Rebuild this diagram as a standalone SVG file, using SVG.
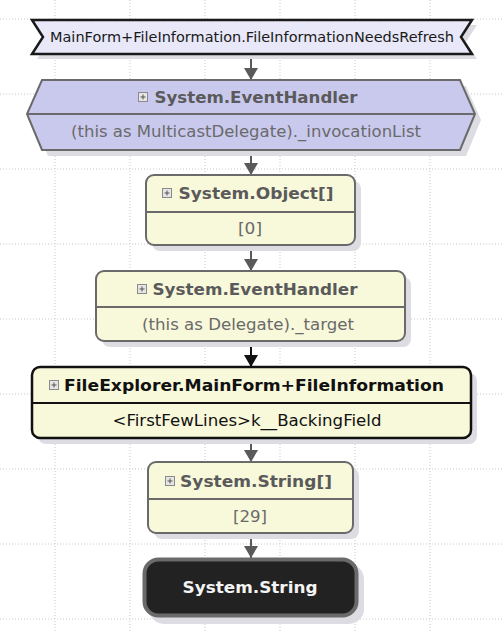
<svg xmlns="http://www.w3.org/2000/svg" width="504" height="631" viewBox="0 0 504 631">
<style>
.grid{stroke:#c8c8c8;stroke-width:1;stroke-dasharray:1 2}
.shadow{fill:#dcdce2}
.yel{fill:#f8f8da;stroke:#6a6a6a;stroke-width:2}
.hdr{font-family:"DejaVu Sans",Tahoma,sans-serif;font-weight:bold;font-size:16px;fill:#5a5a5a;text-anchor:middle}
.body{font-family:"DejaVu Sans",Tahoma,sans-serif;font-size:15px;fill:#6a6a6a;text-anchor:middle}
.div{stroke:#6a6a6a;stroke-width:2}
.icon{fill:#e6e6e6;stroke:#8a8a8a;stroke-width:1}
.plus{stroke:#555;stroke-width:1}
.conn{stroke:#5a5a5a;stroke-width:2;fill:none}
</style>
<defs>
<marker id="ah" markerUnits="userSpaceOnUse" markerWidth="12" markerHeight="14" refX="12" refY="7" orient="auto" viewBox="0 0 12 14">
<path d="M0,0 L12,7 L0,14 Z" fill="#5a5a5a"/>
</marker>
<marker id="ahb" markerUnits="userSpaceOnUse" markerWidth="12" markerHeight="14" refX="12" refY="7" orient="auto" viewBox="0 0 12 14">
<path d="M0,0 L12,7 L0,14 Z" fill="#111"/>
</marker>
<g id="ic"><rect class="icon" x="0.5" y="0.5" width="9" height="9"/><path class="plus" d="M2.5,5 H7.5 M5,2.5 V7.5"/></g>
</defs>
<rect width="504" height="631" fill="#fff"/>
<g id="grid">
<path class="grid" d="M55,0V631 M130,0V631 M205,0V631 M280,0V631 M355,0V631 M430,0V631 M0,19H504 M0,94H504 M0,169H504 M0,244H504 M0,319H504 M0,394H504 M0,469H504 M0,544H504 M0,619H504"/>
</g>
<g id="connectors">
<line class="conn" x1="251" y1="54" x2="251" y2="80" marker-end="url(#ah)"/>
<line class="conn" x1="251" y1="150" x2="251" y2="175" marker-end="url(#ah)"/>
<line class="conn" x1="251" y1="245" x2="251" y2="271" marker-end="url(#ah)"/>
<line x1="251" y1="341" x2="251" y2="367" stroke="#111" stroke-width="2" marker-end="url(#ahb)"/>
<line class="conn" x1="251" y1="438" x2="251" y2="462" marker-end="url(#ah)"/>
<line class="conn" x1="251" y1="533" x2="251" y2="558" marker-end="url(#ah)"/>
</g>
<g id="n1">
<polygon class="shadow" points="37,25 477,25 466,42 477,59 37,59 48,42"/>
<polygon points="32,20 472,20 461,37 472,54 32,54 43,37" fill="#e8e8f8" stroke="#1a1a1a" stroke-width="2.5"/>
<text x="252" y="42" font-family="'DejaVu Sans',Tahoma,sans-serif" font-size="14" fill="#1a1a1a" text-anchor="middle" textLength="404" lengthAdjust="spacingAndGlyphs">MainForm+FileInformation.FileInformationNeedsRefresh</text>
</g>
<g id="n2">
<polygon class="shadow" points="48,86 466,86 481,120 466,156 48,156 33,120"/>
<polygon points="42,80 460,80 475,114 460,150 42,150 27,114" fill="#c9c9ee" stroke="#6a6a6a" stroke-width="2"/>
<line class="div" x1="27" y1="114" x2="475" y2="114"/>
<use href="#ic" x="138" y="92"/>
<text class="hdr" x="256" y="103" textLength="203" lengthAdjust="spacingAndGlyphs">System.EventHandler</text>
<text class="body" x="246" y="137" textLength="350" lengthAdjust="spacingAndGlyphs">(this as MulticastDelegate)._invocationList</text>
</g>
<g id="n3">
<rect class="shadow" x="152" y="181" width="209" height="70" rx="8"/>
<rect class="yel" x="146" y="175" width="209" height="70" rx="8"/>
<line class="div" x1="146" y1="212" x2="355" y2="212"/>
<use href="#ic" x="162" y="188"/>
<text class="hdr" x="256" y="199" textLength="155" lengthAdjust="spacingAndGlyphs">System.Object[]</text>
<text class="body" x="250" y="234" textLength="24" lengthAdjust="spacingAndGlyphs">[0]</text>
</g>
<g id="n4">
<rect class="shadow" x="102" y="277" width="309" height="70" rx="8"/>
<rect class="yel" x="96" y="271" width="309" height="70" rx="8"/>
<line class="div" x1="96" y1="307" x2="405" y2="307"/>
<use href="#ic" x="137" y="284"/>
<text class="hdr" x="255" y="295" textLength="205" lengthAdjust="spacingAndGlyphs">System.EventHandler</text>
<text class="body" x="248" y="330" textLength="212" lengthAdjust="spacingAndGlyphs">(this as Delegate)._target</text>
</g>
<g id="n5">
<rect class="shadow" x="38" y="373" width="439" height="71" rx="8"/>
<rect x="32" y="367" width="439" height="71" rx="8" fill="#f8f8da" stroke="#111" stroke-width="2.5"/>
<line x1="32" y1="403" x2="471" y2="403" stroke="#111" stroke-width="2"/>
<use href="#ic" x="49" y="380"/>
<text class="hdr" x="254" y="391" style="fill:#111" textLength="380" lengthAdjust="spacingAndGlyphs">FileExplorer.MainForm+FileInformation</text>
<text class="body" x="247" y="426" style="fill:#111" textLength="269" lengthAdjust="spacingAndGlyphs">&lt;FirstFewLines&gt;k__BackingField</text>
</g>
<g id="n6">
<rect class="shadow" x="154" y="468" width="205" height="71" rx="8"/>
<rect class="yel" x="148" y="462" width="205" height="71" rx="8"/>
<line class="div" x1="148" y1="499" x2="353" y2="499"/>
<use href="#ic" x="165" y="476"/>
<text class="hdr" x="256" y="487" textLength="152" lengthAdjust="spacingAndGlyphs">System.String[]</text>
<text class="body" x="250" y="522" textLength="34" lengthAdjust="spacingAndGlyphs">[29]</text>
</g>
<g id="n7">
<rect class="shadow" x="149" y="564" width="215" height="60" rx="15"/>
<rect x="144.5" y="559.5" width="212" height="56" rx="14" fill="#222" stroke="#6a6a6a" stroke-width="4"/>
<text x="250" y="593" font-family="'DejaVu Sans',Tahoma,sans-serif" font-weight="bold" font-size="16" fill="#f4f4f4" text-anchor="middle" textLength="135" lengthAdjust="spacingAndGlyphs">System.String</text>
</g>
</svg>
